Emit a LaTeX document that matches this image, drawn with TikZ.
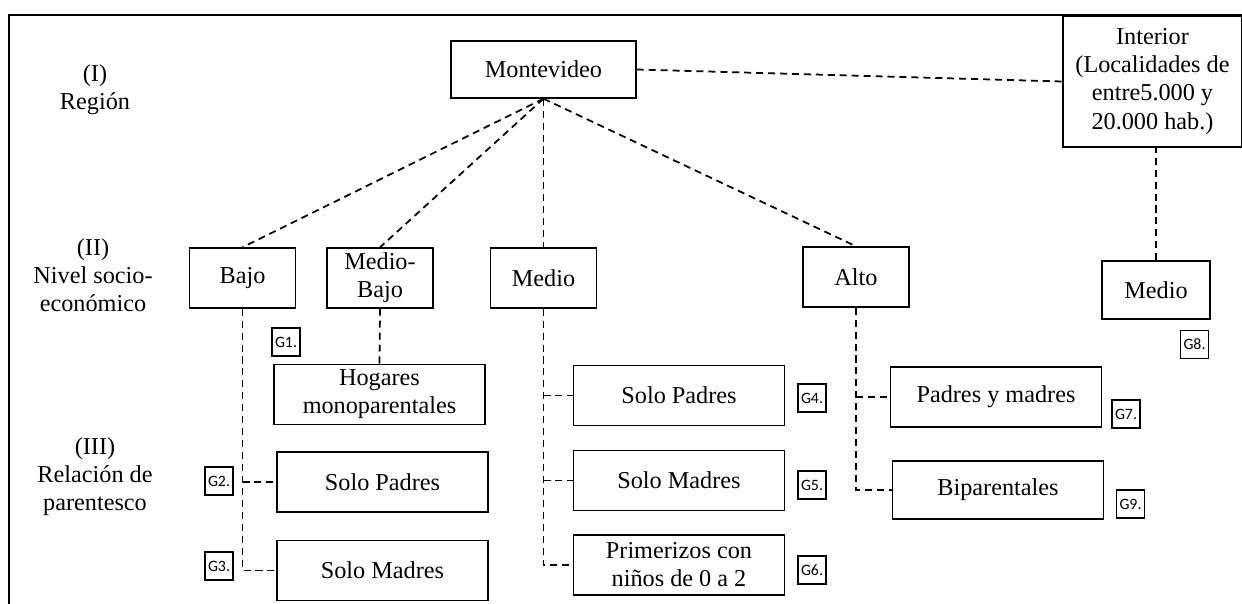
\documentclass[tikz,border=0pt]{standalone}
\usepackage{fontspec}
\setmainfont{Liberation Serif}
\newfontfamily\tagfont{Carlito}
\usetikzlibrary{calc}

\begin{document}
\begin{tikzpicture}[x=0.02cm, y=-0.02cm, line width=0.8pt,
    font=\fontsize{13.8}{16}\selectfont,
    box/.style={draw, align=center, inner sep=2pt, minimum height=1.2cm, minimum width=2.12cm},
    wbox/.style={box, minimum width=4.22cm},
    tag/.style={draw, font=\tagfont\fontsize{9}{10}\selectfont, minimum size=0.56cm, inner sep=0pt},
    link/.style={line width=1pt, dash pattern=on 4pt off 2.8pt},
    lvl/.style={align=center}]
  \useasboundingbox (0,0) rectangle (1242,604);
  % ---------------- frame ----------------
  \draw (9,604) -- (9,15) -- (1242,15);
  % ---------------- levels ----------------
  \node[lvl] (lvlI) at (95,90) {(I)\\Región};
  \node[lvl] (lvlII) at (93,275) {(II)\\Nivel socio-\\económico};
  \node[lvl] (lvlIII) at (95,477) {(III)\\Relación de\\parentesco};
  % ---------------- region ----------------
  \node[box, minimum width=3.7cm, minimum height=1.14cm] (mvd) at (543.5,69.5) {Montevideo};
  \node[box, minimum width=3.58cm, minimum height=2.62cm] (int) at (1152.5,81.5)
       {Interior\\(Localidades de\\entre5.000 y\\20.000 hab.)};
  \draw[link] (mvd.east) -- (int.west);
  % ---------------- socio-economic level ----------------
  \node[box] (bajo) at (242.5,278) {Bajo};
  \node[box] (mbajo) at (380,278) {Medio-\\Bajo};
  \node[box] (medio) at (543.5,278) {Medio};
  \node[box] (alto) at (856,277) {Alto};
  \node[box, minimum width=2.16cm, minimum height=1.16cm] (medioI) at (1156,290) {Medio};
  \foreach \n in {bajo,mbajo,medio,alto} \draw[link] (mvd.south) -- (\n.north);
  \draw[link] (medioI.north) -- (medioI.north |- int.south);
  % ---------------- kinship ----------------
  \node[wbox] (hogar) at (379.5,394.5) {Hogares\\monoparentales};
  \node[wbox] (spB) at (382.5,482) {Solo Padres};
  \node[wbox] (smB) at (382.5,570.5) {Solo Madres};
  \node[wbox] (spM) at (679,395.5) {Solo Padres};
  \node[wbox] (smM) at (679,480.5) {Solo Madres};
  \node[wbox] (prim) at (679,565) {Primerizos con\\niños de 0 a 2};
  \node[wbox] (pym) at (996,397) {Padres y madres};
  \node[wbox, minimum height=1.16cm] (bip) at (998,490) {Biparentales};
  \draw[link] (mbajo.south) -- (hogar.north);
  \draw[link] (bajo.south) |- (smB.west);
  \draw[link] (bajo.south |- spB.west) -- (spB.west);
  \draw[link] (medio.south) |- (prim.west);
  \foreach \t in {spM,smM} \draw[link] (medio.south |- \t.west) -- (\t.west);
  \draw[link] (alto.south) |- (bip.west);
  \draw[link] (alto.south |- pym.west) -- (pym.west);
  % ---------------- groups ----------------
  \node[tag] (g1) at (286,342) {G1.};
  \node[tag] (g2) at (219,481) {G2.};
  \node[tag] (g3) at (219,566) {G3.};
  \node[tag] (g4) at (812,398) {G4.};
  \node[tag] (g5) at (812,485) {G5.};
  \node[tag] (g6) at (812,570) {G6.};
  \node[tag] (g7) at (1126,414) {G7.};
  \node[tag] (g8) at (1194.5,344.5) {G8.};
  \node[tag] (g9) at (1130.5,504) {G9.};
\end{tikzpicture}
\end{document}
